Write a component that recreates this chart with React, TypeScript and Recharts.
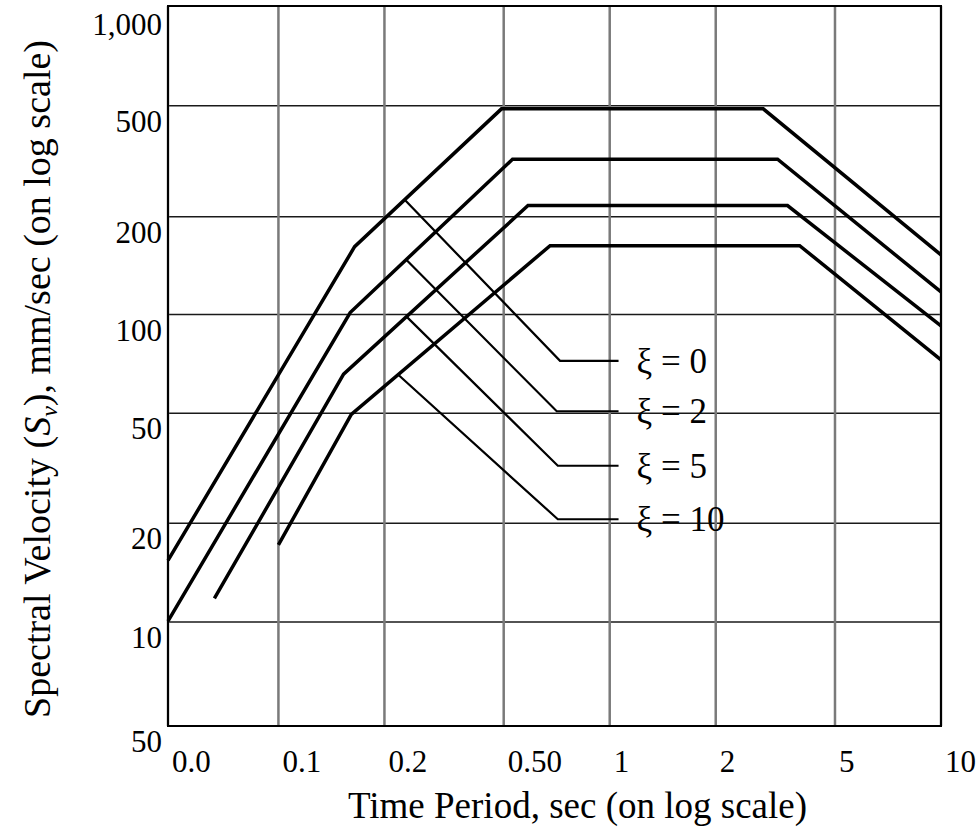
import React from 'react';
import { LineChart, Line, XAxis, YAxis, CartesianGrid, ReferenceArea, LabelList } from 'recharts';

// positions are in grid units of the hand-drawn log grid (0 = left/bottom edge, 7 = right/top edge)
const xTickPos = [0, 1.0, 1.96, 3.04, 4.0, 4.96, 6.04, 7];
const xTickLabels = ['0.0', '0.1', '0.2', '0.50', '1', '2', '5', '10'];
const yTickPos = [0, 1.01, 1.97, 3.04, 4.0, 4.95, 6.03, 7];
const yTickLabels = ['50', '10', '20', '50', '100', '200', '500', '1,000'];

const dampingLabels = ['ξ = 0', 'ξ = 2', 'ξ = 5', 'ξ = 10'];

// spectrum curves
const periodXi0 = [0, 1.69, 3.02, 5.39, 7];
const velocityXi0 = [1.61, 4.66, 6.0, 6.0, 4.58];
const periodXi2 = [0, 1.65, 3.12, 5.52, 7];
const velocityXi2 = [1.02, 4.02, 5.51, 5.51, 4.22];
const periodXi5 = [0.42, 1.59, 3.26, 5.61, 7];
const velocityXi5 = [1.24, 3.42, 5.06, 5.06, 3.89];
const periodXi10 = [1.0, 1.66, 3.46, 5.72, 7];
const velocityXi10 = [1.76, 3.03, 4.67, 4.67, 3.56];

// leader lines to the damping labels
const leaderPeriodXi0 = [2.15, 3.55, 4.08];
const leaderVelocityXi0 = [5.11, 3.55, 3.55];
const leaderPeriodXi2 = [2.16, 3.52, 4.08];
const leaderVelocityXi2 = [4.53, 3.06, 3.06];
const leaderPeriodXi5 = [2.16, 3.53, 4.08];
const leaderVelocityXi5 = [3.98, 2.53, 2.53];
const leaderPeriodXi10 = [2.09, 3.53, 4.08];
const leaderVelocityXi10 = [3.41, 2.01, 2.01];

const zip = (xs: number[], ys: number[]) => xs.map((x, i) => ({ x, y: ys[i] }));

const curves = [
  zip(periodXi0, velocityXi0),
  zip(periodXi2, velocityXi2),
  zip(periodXi5, velocityXi5),
  zip(periodXi10, velocityXi10),
];
const leaders = [
  zip(leaderPeriodXi0, leaderVelocityXi0),
  zip(leaderPeriodXi2, leaderVelocityXi2),
  zip(leaderPeriodXi5, leaderVelocityXi5),
  zip(leaderPeriodXi10, leaderVelocityXi10),
];

const FONT = '"Liberation Serif", "Times New Roman", serif';

const XTick = (props: any) => {
  const { x, y, index } = props;
  return (
    <text x={x + 4} y={y} dy={36} textAnchor="start" fontSize={31} fontFamily={FONT} fill="#000">
      {xTickLabels[index]}
    </text>
  );
};

const YTick = (props: any) => {
  const { x, y, index } = props;
  return (
    <text x={x} y={y} dy={index === 7 ? 29 : 26} textAnchor="end" fontSize={31} fontFamily={FONT} fill="#000">
      {yTickLabels[index]}
    </text>
  );
};

const XTitle = () => (
  <text x={348} y={818} fontSize={37} fontFamily={FONT} fill="#000">
    Time Period, sec (on log scale)
  </text>
);

const YTitle = () => (
  <text
    x={50}
    y={379}
    transform="rotate(-90, 50, 379)"
    textAnchor="middle"
    fontSize={38}
    fontFamily={FONT}
    fill="#000"
  >
    Spectral Velocity (<tspan fontStyle="italic">S</tspan>
    <tspan fontStyle="italic" fontSize={24} dy={7}>v</tspan>
    <tspan dy={-7}>), mm/sec (on log scale)</tspan>
  </text>
);

const hLine = (p: any) => (
  <line key={p.key} x1={p.x1} y1={p.y1} x2={p.x2} y2={p.y2} stroke="#1a1a1a" strokeWidth={1.5} />
);
const vLine = (p: any) => (
  <line key={p.key} x1={p.x1} y1={p.y1} x2={p.x2} y2={p.y2} stroke="#7a7a7a" strokeWidth={2.5} />
);

const xiLabel = (text: string) => (props: any) => {
  const { x, y, index } = props;
  if (index !== 2) return null;
  return (
    <text x={x + 18} y={y} dy={12} fontSize={35} fontFamily={FONT} fill="#000">
      {text}
    </text>
  );
};

export default function App() {
  return (
    <div style={{ position: 'absolute', left: 0, top: 0, background: '#fff' }}>
      <LineChart width={979} height={829} margin={{ top: 6, right: 38, bottom: 43, left: 88 }}>
        <CartesianGrid horizontal={hLine} vertical={vLine} />
        <XAxis
          type="number"
          dataKey="x"
          domain={[0, 7]}
          ticks={xTickPos}
          interval={0}
          tick={<XTick />}
          tickSize={0}
          tickMargin={10}
          height={60}
          axisLine={{ stroke: '#000', strokeWidth: 2 }}
          label={<XTitle />}
        />
        <YAxis
          type="number"
          dataKey="y"
          domain={[0, 7]}
          ticks={yTickPos}
          interval={0}
          tick={<YTick />}
          tickSize={0}
          tickMargin={6}
          width={80}
          axisLine={{ stroke: '#000', strokeWidth: 2 }}
          label={<YTitle />}
        />
        <ReferenceArea x1={0} x2={7} y1={0} y2={7} fill="none" stroke="#000" strokeWidth={2} />
        {curves.map((d, i) => (
          <Line
            key={`curve-${i}`}
            data={d}
            dataKey="y"
            type="linear"
            stroke="#000"
            strokeWidth={3.5}
            dot={false}
            activeDot={false}
            isAnimationActive={false}
          />
        ))}
        {leaders.map((d, i) => (
          <Line
            key={`leader-${i}`}
            data={d}
            dataKey="y"
            type="linear"
            stroke="#000"
            strokeWidth={2.2}
            dot={false}
            activeDot={false}
            isAnimationActive={false}
          >
            <LabelList dataKey="y" content={xiLabel(dampingLabels[i])} />
          </Line>
        ))}
      </LineChart>
    </div>
  );
}
